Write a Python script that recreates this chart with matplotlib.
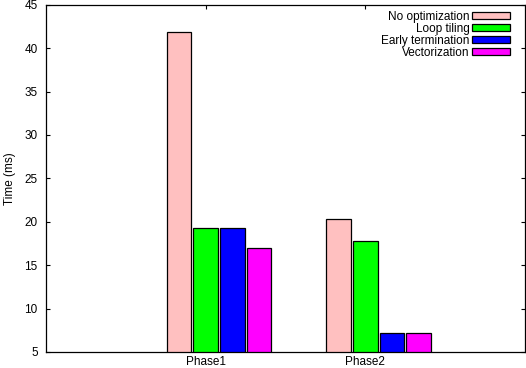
import matplotlib
matplotlib.use("Agg")
import matplotlib.pyplot as plt
import numpy as np

plt.rcParams['font.family'] = ['Liberation Sans', 'DejaVu Sans']

categories = ["Phase1", "Phase2"]
series_names = ["No optimization", "Loop tiling", "Early termination", "Vectorization"]
no_opt = [41.85, 20.3]
loop_tiling = [19.25, 17.75]
early_term = [19.25, 7.15]
vectorization = [16.95, 7.15]
colors = ["#ffc0c0", "#00ff00", "#0000ff", "#ff00ff"]
yticks = [5, 10, 15, 20, 25, 30, 35, 40, 45]

series = [no_opt, loop_tiling, early_term, vectorization]

fig = plt.figure(figsize=(5.26, 3.68), dpi=100)
ax = fig.add_axes([46/526, 1-352/368, (525-46)/526, (352-4.7)/368])

x = np.arange(len(categories))
pitch = 1/6
width = 0.155
for j, (vals, name, c) in enumerate(zip(series, series_names, colors)):
    ax.bar(x + (j - 1) * pitch, vals, width=width, bottom=0, color=c,
           edgecolor="black", linewidth=0.9, label=name, zorder=2)

ax.set_xlim(-1, 2)
ax.set_ylim(5, 45)
ax.set_yticks(yticks)
ax.set_xticks(x)
ax.set_xticklabels(categories)
ax.tick_params(axis="both", direction="in", length=3, width=0.8,
               labelsize=8.5, top=True, right=True, pad=3)
ax.tick_params(axis="y", pad=6)
for s in ax.spines.values():
    s.set_linewidth(0.9)
ax.set_ylabel("Time (ms)", fontsize=8.5, labelpad=6)

leg = ax.legend(loc="upper right", bbox_to_anchor=((512 - 46) / 479, 0.99),
                frameon=False, fontsize=8.5, markerfirst=False,
                handlelength=3.2, handleheight=0.6, labelspacing=0.0,
                handletextpad=0.2, borderaxespad=0.0, borderpad=0.2)
for t in leg.get_texts():
    t.set_ha("right")

fig.savefig("out.png", dpi=100)
